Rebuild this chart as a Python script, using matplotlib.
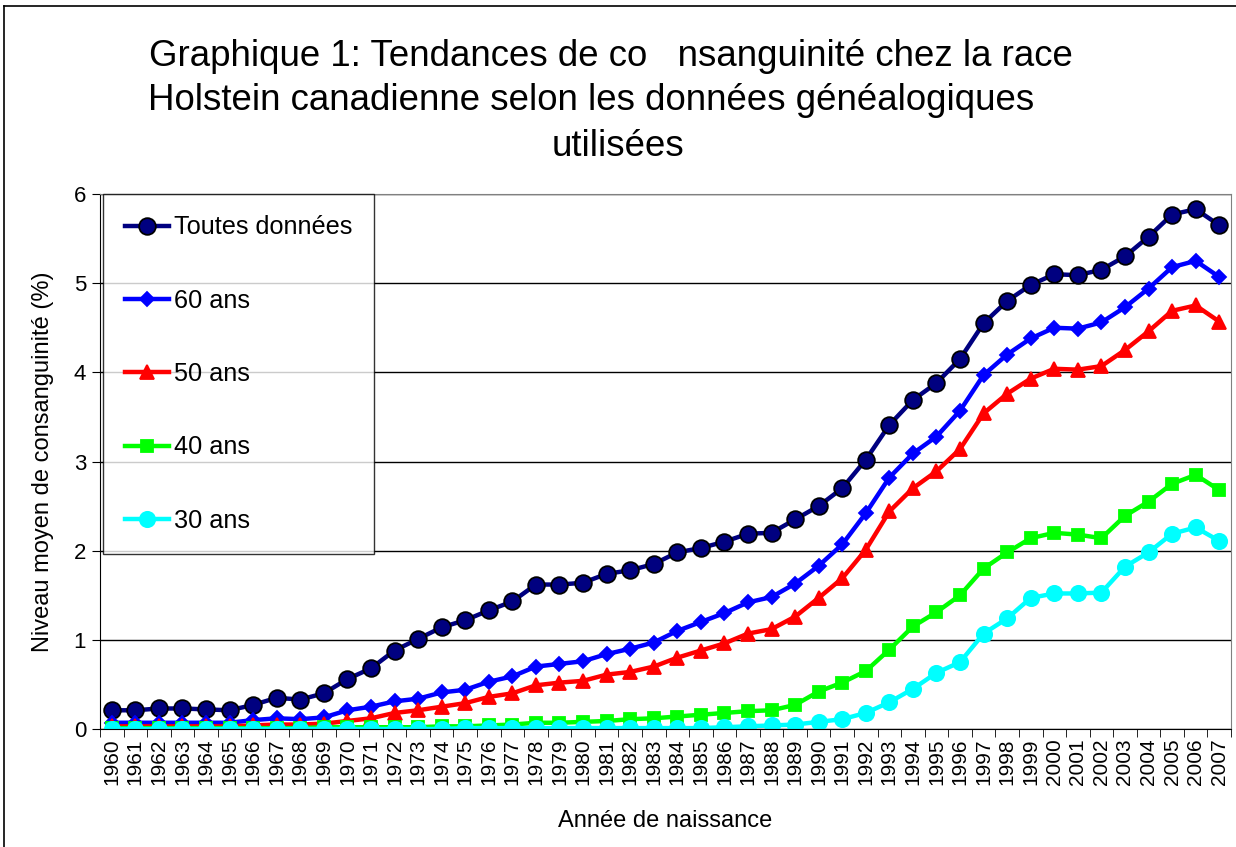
import numpy as np
import matplotlib
matplotlib.use("Agg")
import matplotlib.pyplot as plt
from matplotlib.lines import Line2D

plt.rcParams['font.family'] = ['Liberation Sans', 'DejaVu Sans']

# data
years = list(range(1960, 2008))

toutes = [0.21, 0.21, 0.23, 0.23, 0.22, 0.21, 0.27, 0.35, 0.33, 0.40,
          0.56, 0.68, 0.88, 1.01, 1.14, 1.22, 1.33, 1.43, 1.62, 1.62,
          1.64, 1.74, 1.78, 1.85, 1.98, 2.03, 2.10, 2.19, 2.20, 2.35,
          2.50, 2.70, 3.02, 3.41, 3.69, 3.88, 4.15, 4.55, 4.80, 4.98,
          5.10, 5.09, 5.15, 5.30, 5.52, 5.77, 5.83, 5.65]

ans60 = [0.07, 0.07, 0.07, 0.07, 0.07, 0.07, 0.10, 0.12, 0.11, 0.13,
         0.21, 0.25, 0.31, 0.34, 0.41, 0.44, 0.53, 0.59, 0.70, 0.73,
         0.76, 0.84, 0.90, 0.97, 1.10, 1.20, 1.30, 1.42, 1.48, 1.63,
         1.83, 2.07, 2.42, 2.82, 3.09, 3.28, 3.57, 3.97, 4.20, 4.38,
         4.50, 4.49, 4.56, 4.73, 4.94, 5.18, 5.25, 5.07]

ans50 = [0.03, 0.03, 0.03, 0.03, 0.03, 0.03, 0.04, 0.05, 0.05, 0.06,
         0.09, 0.12, 0.18, 0.21, 0.25, 0.29, 0.36, 0.40, 0.49, 0.52,
         0.54, 0.61, 0.64, 0.70, 0.80, 0.88, 0.96, 1.07, 1.12, 1.26,
         1.47, 1.69, 2.01, 2.44, 2.70, 2.89, 3.14, 3.54, 3.76, 3.93,
         4.04, 4.03, 4.07, 4.25, 4.46, 4.69, 4.75, 4.57]

ans40 = [0.01, 0.01, 0.01, 0.01, 0.01, 0.01, 0.01, 0.01, 0.01, 0.02,
         0.02, 0.02, 0.02, 0.02, 0.03, 0.03, 0.04, 0.05, 0.07, 0.07,
         0.08, 0.09, 0.11, 0.12, 0.14, 0.16, 0.18, 0.20, 0.21, 0.27,
         0.42, 0.52, 0.65, 0.89, 1.15, 1.31, 1.50, 1.80, 1.98, 2.14,
         2.20, 2.18, 2.14, 2.39, 2.55, 2.75, 2.85, 2.68]

ans30 = [0.00, 0.00, 0.00, 0.00, 0.00, 0.00, 0.00, 0.00, 0.00, 0.00,
         0.00, 0.00, 0.00, 0.00, 0.00, 0.01, 0.01, 0.01, 0.01, 0.01,
         0.01, 0.01, 0.01, 0.01, 0.01, 0.01, 0.02, 0.03, 0.04, 0.05,
         0.08, 0.11, 0.18, 0.30, 0.45, 0.63, 0.75, 1.07, 1.24, 1.47,
         1.52, 1.52, 1.53, 1.82, 1.98, 2.19, 2.26, 2.11]

series = [
    ("Toutes données", toutes, "#000080", "o", 12, "black"),
    ("60 ans", ans60, "#0000FF", "D", 7, "#0000FF"),
    ("50 ans", ans50, "#FF0000", "^", 10, "#FF0000"),
    ("40 ans", ans40, "#00FF00", "s", 9, "#00FF00"),
    ("30 ans", ans30, "#00FFFF", "o", 11, "#00FFFF"),
]

fig = plt.figure(figsize=(12.36, 8.47), dpi=100)
ax = fig.add_axes([100 / 1236, 1 - 729 / 847, 1131 / 1236, 535 / 847])

x = np.arange(len(years))
for label, vals, col, mk, ms, ec in series:
    ax.plot(x, vals, color=col, lw=3.2, marker=mk, markersize=ms,
            markerfacecolor=col, markeredgecolor=ec, markeredgewidth=1.3,
            label=label)

ax.set_xlim(-0.5, len(years) - 0.5)
ax.set_ylim(0, 6)
ax.set_yticks(range(0, 7))
ax.set_xticks(x)
ax.set_xticklabels([str(y) for y in years], rotation=90, fontsize=15)
ax.set_xticks(np.arange(-0.5, len(years), 1.0), minor=True)
ax.tick_params(axis="x", which="major", length=0, pad=7)
ax.tick_params(axis="x", which="minor", length=6, direction="out", color="black")
ax.tick_params(axis="y", length=6, direction="out", labelsize=16, pad=4)

ax.grid(axis="y", color="black", lw=1.0)
ax.set_axisbelow(True)
for side in ["top", "right"]:
    ax.spines[side].set_color("#808080")
for side in ["left", "bottom"]:
    ax.spines[side].set_color("black")

ax.set_ylabel("Niveau moyen de consanguinité (%)", fontsize=17, labelpad=14)
ax.set_xlabel("Année de naissance", fontsize=17, labelpad=18)

leg = ax.legend(loc="upper left", bbox_to_anchor=(0.0027, 1.0), fontsize=18.2,
                frameon=True, fancybox=False, shadow=False, borderaxespad=0,
                labelspacing=1.95, handlelength=1.75, handletextpad=0.2,
                borderpad=0.85)
leg.get_frame().set_edgecolor("black")
leg.get_frame().set_linewidth(1.0)

fig.text(611 / 1236, 1 - 57 / 847,
         "Graphique 1: Tendances de co   nsanguinité chez la race",
         ha="center", va="center", fontsize=26.4)
fig.text(591 / 1236, 1 - 100 / 847,
         "Holstein canadienne selon les données généalogiques",
         ha="center", va="center", fontsize=26.4)
fig.text(618 / 1236, 1 - 147 / 847, "utilisées",
         ha="center", va="center", fontsize=26.4)

# outer frame of the chart object
fig.add_artist(Line2D([4 / 1236, 4 / 1236], [0, 1 - 6 / 847], color="black", lw=1.2))
fig.add_artist(Line2D([4 / 1236, 1], [1 - 6 / 847, 1 - 6 / 847], color="black", lw=1.2))

fig.savefig("out.png", dpi=100)
